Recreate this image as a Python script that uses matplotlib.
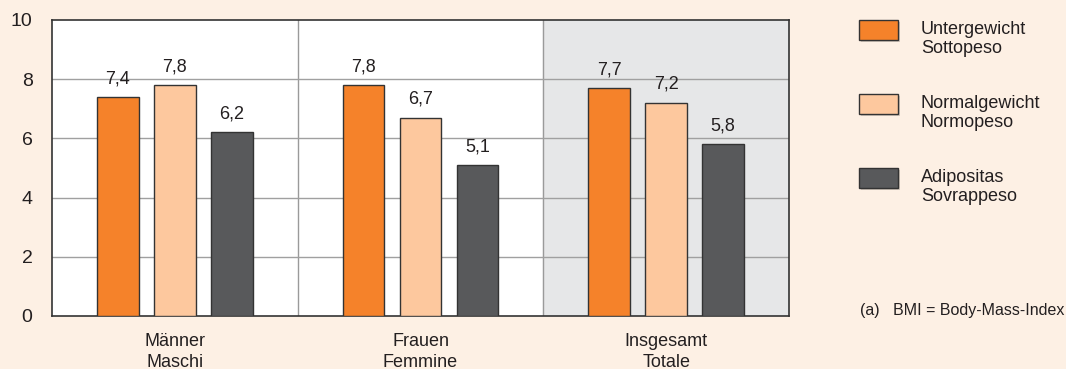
import numpy as np
import matplotlib
matplotlib.use('Agg')
import matplotlib.pyplot as plt
from matplotlib.patches import Rectangle

plt.rcParams['font.family'] = ['Liberation Sans', 'DejaVu Sans']

# ------------------------------------------------------------------
# Data
# ------------------------------------------------------------------
groups = ['Männer\nMaschi', 'Frauen\nFemmine', 'Insgesamt\nTotale']
series = ['Untergewicht\nSottopeso', 'Normalgewicht\nNormopeso', 'Adipositas\nSovrappeso']
untergewicht = [7.4, 7.8, 7.7]
normalgewicht = [7.8, 6.7, 7.2]
adipositas = [6.2, 5.1, 5.8]
yticks = [0, 2, 4, 6, 8, 10]

values = [untergewicht, normalgewicht, adipositas]
colors = ['#f5822a', '#fdc89e', '#58595b']
BG = '#fdf0e4'
TXT = '#231f20'

W, H = 1066, 369
fig = plt.figure(figsize=(W / 100, H / 100), dpi=100, facecolor=BG)
ax = fig.add_axes([52 / W, 1 - 316 / H, (789 - 52) / W, (316 - 20) / H])
ax.set_facecolor('white')

x = np.arange(len(groups))
ax.set_xlim(-0.5, len(groups) - 0.5)
ax.set_ylim(0, 10)

# shaded total panel + group separators
ax.axvspan(1.5, 2.5, color='#e6e7e8', zorder=0)
for sep in [0.5, 1.5]:
    ax.axvline(sep, color='#9a9a9a', lw=1, zorder=1)
for yv in yticks[1:-1]:
    ax.axhline(yv, color='#a0a0a0', lw=1, zorder=1)

width = 0.17
offsets = [-0.232, 0, 0.232]
for vals, col, off in zip(values, colors, offsets):
    bars = ax.bar(x + off, vals, width, color=col, edgecolor='#333333',
                  linewidth=1, zorder=3)
    for b, v in zip(bars, vals):
        ax.text(b.get_x() + b.get_width() / 2, v + 0.47, f'{v:.1f}'.replace('.', ','),
                ha='center', va='baseline', fontsize=13, color=TXT)

ax.set_xticks(x)
ax.set_xticklabels(groups, fontsize=13, color=TXT, linespacing=1.3)
ax.set_yticks(yticks)
ax.set_yticklabels([str(t) for t in yticks], fontsize=14, color=TXT)
ax.tick_params(axis='both', length=0)
ax.tick_params(axis='y', pad=14)
ax.tick_params(axis='x', pad=12)
for sp in ax.spines.values():
    sp.set_color('#333333')
    sp.set_linewidth(1.2)

# legend, drawn by hand in pixel coords
leg_tops = [20, 94, 168]
for col, lab, top in zip(colors, series, leg_tops):
    # soft drop shadow
    fig.patches.append(Rectangle((861 / W, 1 - (top + 22) / H), 39 / W, 20 / H,
                                 transform=fig.transFigure, facecolor='#b8ada4',
                                 edgecolor='none', alpha=0.6))
    fig.patches.append(Rectangle((859 / W, 1 - (top + 20) / H), 39 / W, 20 / H,
                                 transform=fig.transFigure, facecolor=col,
                                 edgecolor='#333333', lw=1))
    fig.text(921 / W, 1 - (top + 1) / H, lab, fontsize=13, color=TXT,
             ha='left', va='top', linespacing=1.12)

fig.text(860 / W, 1 - 311 / H, '(a)   BMI = Body-Mass-Index', fontsize=11.5,
         color=TXT, ha='left', va='center')

plt.savefig('out.png', dpi=100, facecolor=BG)
